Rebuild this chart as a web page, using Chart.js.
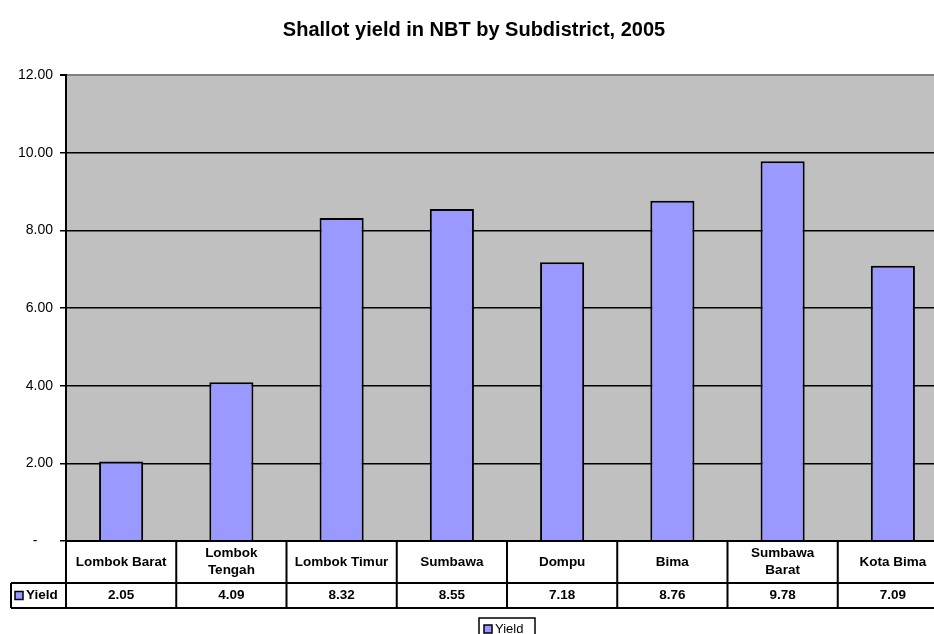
<!DOCTYPE html>
<html>
<head>
<meta charset="utf-8">
<script src="https://cdn.jsdelivr.net/npm/chart.js@4.4.1/dist/chart.umd.min.js"></script>
<style>
  html, body { margin: 0; padding: 0; background: #ffffff; }
  #wrap { width: 934px; height: 634px; overflow: hidden; position: relative; }
  canvas { display: block; }
</style>
</head>
<body>
<div id="wrap">
  <canvas id="yield-chart" width="972" height="634"></canvas>
</div>
<script>
const titleText = "Shallot yield in NBT by Subdistrict, 2005";
const seriesName = "Yield";
const subdistricts = [
  ["Lombok Barat"],
  ["Lombok", "Tengah"],
  ["Lombok Timur"],
  ["Sumbawa"],
  ["Dompu"],
  ["Bima"],
  ["Sumbawa", "Barat"],
  ["Kota Bima"],
];
const yieldValues = [2.05, 4.09, 8.32, 8.55, 7.18, 8.76, 9.78, 7.09];
const yTicks = [0, 2, 4, 6, 8, 10, 12];

const barColor = "#9999ff";
const fontFamily = "Arial, 'Liberation Sans', sans-serif";

// grey plot area behind the bars
const plotBackground = {
  id: "plotBackground",
  beforeDraw(chart) {
    const { ctx, chartArea } = chart;
    ctx.save();
    ctx.fillStyle = "#c0c0c0";
    ctx.fillRect(chartArea.left, chartArea.top, chartArea.right - chartArea.left, chartArea.bottom - chartArea.top);
    ctx.restore();
  },
};

// excel style data table + legend under the plot
const dataTable = {
  id: "dataTable",
  afterDraw(chart) {
    const { ctx, chartArea } = chart;
    const xScale = chart.scales.x;
    const n = subdistricts.length;
    const colW = (chartArea.right - chartArea.left) / n;
    const top = chartArea.bottom;
    const row1 = top + 42;
    const row2 = row1 + 25;
    const headLeft = 11;

    ctx.save();
    ctx.fillStyle = "#ffffff";
    ctx.fillRect(chartArea.left, top, chartArea.right - chartArea.left, row2 - top);
    ctx.fillRect(headLeft, row1, chartArea.left - headLeft, row2 - row1);

    ctx.strokeStyle = "#000000";
    ctx.lineWidth = 2;
    ctx.beginPath();
    ctx.moveTo(chartArea.left, top);
    ctx.lineTo(chartArea.right, top);
    ctx.moveTo(headLeft, row1);
    ctx.lineTo(chartArea.right, row1);
    ctx.moveTo(headLeft, row2);
    ctx.lineTo(chartArea.right, row2);
    ctx.moveTo(headLeft, row1);
    ctx.lineTo(headLeft, row2);
    for (let i = 0; i <= n; i++) {
      const x = chartArea.left + i * colW;
      ctx.moveTo(x, top);
      ctx.lineTo(x, row2);
    }
    ctx.stroke();

    ctx.fillStyle = "#000000";
    ctx.textAlign = "center";
    ctx.textBaseline = "middle";
    ctx.font = "bold 13.5px " + fontFamily;
    subdistricts.forEach((lines, i) => {
      const cx = xScale.getPixelForValue(i);
      const midY = (top + row1) / 2;
      const lh = 17;
      lines.forEach((line, j) => {
        ctx.fillText(line, cx, midY + (j - (lines.length - 1) / 2) * lh);
      });
      ctx.fillText(yieldValues[i].toFixed(2), cx, (row1 + row2) / 2);
    });

    // row header with swatch
    const hy = (row1 + row2) / 2;
    ctx.fillStyle = barColor;
    ctx.fillRect(15, hy - 4, 8, 8);
    ctx.lineWidth = 1.5;
    ctx.strokeRect(15, hy - 4, 8, 8);
    ctx.fillStyle = "#000000";
    ctx.textAlign = "left";
    ctx.fillText(seriesName, 26, hy);

    // legend box
    const lgX = 479, lgY = 618, lgW = 56, lgH = 22;
    ctx.fillStyle = "#ffffff";
    ctx.fillRect(lgX, lgY, lgW, lgH);
    ctx.lineWidth = 1.5;
    ctx.strokeRect(lgX, lgY, lgW, lgH);
    ctx.fillStyle = barColor;
    ctx.fillRect(lgX + 5, lgY + 7, 8, 8);
    ctx.strokeRect(lgX + 5, lgY + 7, 8, 8);
    ctx.fillStyle = "#000000";
    ctx.font = "13px " + fontFamily;
    ctx.fillText(seriesName, lgX + 16, lgY + 11);
    ctx.restore();
  },
};

new Chart(document.getElementById("yield-chart"), {
  type: "bar",
  plugins: [plotBackground, dataTable],
  data: {
    labels: subdistricts.map((l) => l.join(" ")),
    datasets: [
      {
        label: seriesName,
        data: yieldValues,
        backgroundColor: barColor,
        borderColor: "#000000",
        borderWidth: 2,
        categoryPercentage: 1,
        barPercentage: 0.4,
      },
    ],
  },
  options: {
    responsive: false,
    devicePixelRatio: 1,
    animation: false,
    layout: { padding: { top: 0, right: 24, bottom: 93, left: 0 } },
    plugins: {
      legend: { display: false },
      tooltip: { enabled: false },
      title: {
        display: true,
        text: titleText,
        color: "#000000",
        font: { family: fontFamily, size: 20, weight: "bold" },
        padding: { top: 18, bottom: 33 },
      },
    },
    scales: {
      x: { display: false },
      y: {
        min: 0,
        max: 12,
        afterBuildTicks: (scale) => {
          scale.ticks = yTicks.map((v) => ({ value: v }));
        },
        afterFit: (scale) => {
          scale.width = 66;
        },
        ticks: {
          color: "#000000",
          font: { family: fontFamily, size: 14 },
          padding: 7,
          callback: (v) => (v === 0 ? "-    " : v.toFixed(2)),
        },
        grid: {
          color: (c) => (c.tick && c.tick.value === 12 ? "#808080" : "#000000"),
          lineWidth: (c) => (c.tick && c.tick.value === 12 ? 2 : 1.5),
          tickColor: "#000000",
          tickLength: 6,
        },
        border: { display: true, color: "#000000", width: 2 },
      },
    },
  },
});
</script>
</body>
</html>
